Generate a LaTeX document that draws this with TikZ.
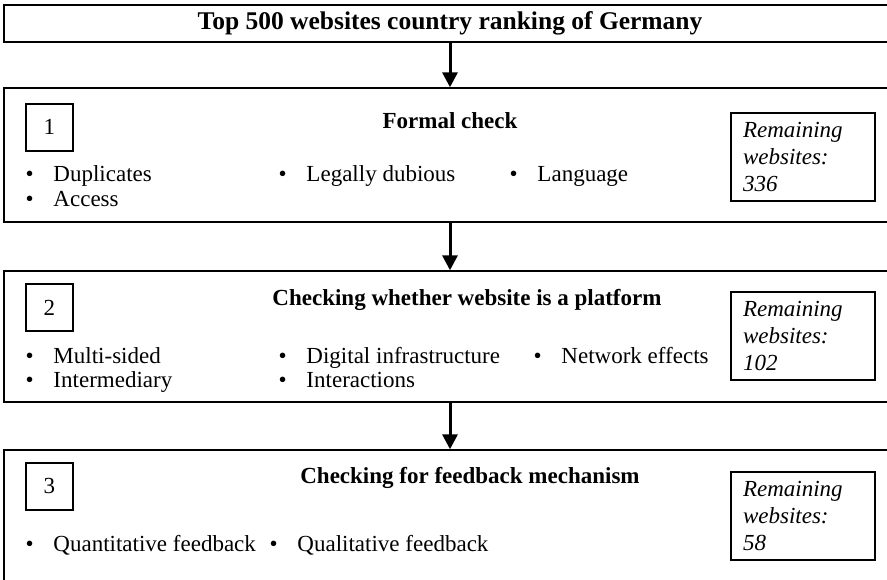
\documentclass[tikz,border=0pt]{standalone}
\usepackage{fontspec}
\setmainfont{Liberation Serif}
\usetikzlibrary{arrows.meta, positioning}
\tikzstyle{header} = [rectangle, minimum width=892pt, minimum height=37pt, text centered, draw=black, line width=1.4pt, font=\fontsize{25.5}{28}\selectfont\bfseries]
\tikzstyle{stage} = [rectangle, minimum width=892pt, draw=black, line width=1.4pt]
\tikzstyle{number} = [rectangle, minimum width=47pt, minimum height=47pt, draw=black, line width=1.2pt, font=\fontsize{23}{26}\selectfont]
\tikzstyle{remain} = [rectangle, minimum width=144pt, minimum height=88pt, text width=120pt, inner xsep=12pt, align=left, draw=black, line width=1.4pt, font=\fontsize{23}{27}\selectfont\itshape]
\tikzstyle{title} = [anchor=base, inner sep=0pt, font=\fontsize{23}{26}\selectfont\bfseries]
\tikzstyle{item} = [anchor=base west, inner sep=0pt, font=\fontsize{23}{26}\selectfont]
\tikzstyle{arrow} = [line width=3pt,-{Triangle[length=15pt,width=15pt]}]
\newcommand{\bitem}[1]{\makebox[28pt][l]{\textbullet}#1}

\begin{document}
\begin{tikzpicture}[x=1pt, y=-1pt, node distance=180pt]
  \useasboundingbox (0,0) rectangle (887,579);
  \clip (0,0) rectangle (887,579);

  \node (top) [header] at (450,23.5) {Top 500 websites country ranking of Germany};
  \node (stage1) [stage, minimum height=134pt, below of=top, node distance=131.5pt] {};
  \node (stage2) [stage, minimum height=131pt, below of=stage1, node distance=181.5pt] {};
  \node (stage3) [stage, minimum height=134pt, below of=stage2, node distance=180.5pt] {};

  % stage 1
  \node (num1) [number, below right=16pt and 22pt of stage1.north west] {1};
  \node (rem1) [remain, below left=25pt and 21pt of stage1.north east] {Remaining\\websites:\\336};
  \node (title1) [title] at ([shift={(0pt,-41pt)}]stage1.north) {Formal check};
  \node (dup) [item] at ([shift={(22pt,-94pt)}]stage1.north west) {\bitem{Duplicates}};
  \node (acc) [item] at ([shift={(22pt,-119pt)}]stage1.north west) {\bitem{Access}};
  \node (legal) [item] at ([shift={(275pt,-94pt)}]stage1.north west) {\bitem{Legally dubious}};
  \node (lang) [item] at ([shift={(506pt,-94pt)}]stage1.north west) {\bitem{Language}};

  % stage 2
  \node (num2) [number, below right=13pt and 22pt of stage2.north west] {2};
  \node (rem2) [remain, below left=21pt and 21pt of stage2.north east] {Remaining\\websites:\\102};
  \node (title2) [title] at ([shift={(17pt,-35pt)}]stage2.north) {Checking whether website is a platform};
  \node (multi) [item] at ([shift={(22pt,-93pt)}]stage2.north west) {\bitem{Multi-sided}};
  \node (inter) [item] at ([shift={(22pt,-117pt)}]stage2.north west) {\bitem{Intermediary}};
  \node (digi) [item] at ([shift={(275pt,-93pt)}]stage2.north west) {\bitem{Digital infrastructure}};
  \node (inact) [item] at ([shift={(275pt,-117pt)}]stage2.north west) {\bitem{Interactions}};
  \node (netw) [item] at ([shift={(530pt,-93pt)}]stage2.north west) {\bitem{Network effects}};

  % stage 3
  \node (num3) [number, below right=13pt and 22pt of stage3.north west] {3};
  \node (rem3) [remain, below left=22pt and 21pt of stage3.north east] {Remaining\\websites:\\58};
  \node (title3) [title] at ([shift={(20pt,-34pt)}]stage3.north) {Checking for feedback mechanism};
  \node (quant) [item] at ([shift={(22pt,-102pt)}]stage3.north west) {\bitem{Quantitative feedback}};
  \node (qual) [item] at ([shift={(266pt,-102pt)}]stage3.north west) {\bitem{Qualitative feedback}};

  % Arrows
  \draw [arrow] (top) -- (stage1);
  \draw [arrow] (stage1) -- (stage2);
  \draw [arrow] (stage2) -- (stage3);
\end{tikzpicture}
\end{document}
